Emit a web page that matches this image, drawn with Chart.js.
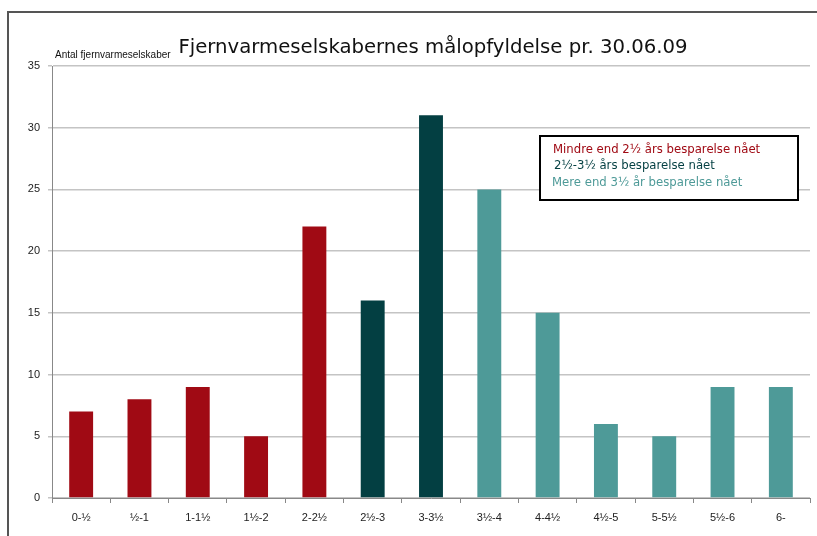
<!DOCTYPE html>
<html>
<head>
<meta charset="utf-8">
<script src="https://cdn.jsdelivr.net/npm/chart.js@4/dist/chart.umd.min.js"></script>
<style>
  html, body { margin: 0; padding: 0; background: #fff; }
  #wrap { width: 817px; height: 536px; position: relative; }
</style>
</head>
<body>
<div id="wrap"><canvas id="chart"></canvas></div>
<script>
// data
var categories = ['0-½', '½-1', '1-1½', '1½-2', '2-2½', '2½-3', '3-3½', '3½-4', '4-4½', '4½-5', '5-5½', '5½-6', '6-'];
var counts = [7, 8, 9, 5, 22, 16, 31, 25, 15, 6, 5, 9, 9];
var groupOf = [0, 0, 0, 0, 0, 1, 1, 2, 2, 2, 2, 2, 2];
var groupLabels = ['Mindre end 2½ års besparelse nået', '2½-3½ års besparelse nået', 'Mere end 3½ år besparelse nået'];
var groupColors = ['#a00a14', '#033f42', '#4e9a98'];
var yTicks = [0, 5, 10, 15, 20, 25, 30, 35];

var titleText = 'Fjernvarmeselskabernes målopfyldelse pr. 30.06.09';
var yLabel = 'Antal fjernvarmeselskaber';

// frame, title, axis caption and legend box
var decor = {
  id: 'decor',
  beforeDraw: function(chart) {
    var c = chart.ctx;
    c.save();
    c.fillStyle = '#fff';
    c.fillRect(0, 0, chart.width, chart.height);
    c.strokeStyle = '#555';
    c.lineWidth = 2;
    c.beginPath();
    c.moveTo(8, chart.height);
    c.lineTo(8, 12);
    c.lineTo(chart.width, 12);
    c.stroke();
    c.restore();
  },
  afterDraw: function(chart) {
    var c = chart.ctx;
    c.save();
    c.fillStyle = '#111';
    c.textBaseline = 'alphabetic';
    c.font = '19.7px "DejaVu Sans"';
    c.textAlign = 'center';
    c.fillText(titleText, 433, 53);
    c.font = '10px "Liberation Sans"';
    c.textAlign = 'left';
    c.fillText(yLabel, 55, 58);

    // legend
    var bx = 540, by = 136, bw = 258, bh = 64;
    c.fillStyle = '#fff';
    c.fillRect(bx, by, bw, bh);
    c.strokeStyle = '#000';
    c.lineWidth = 2;
    c.strokeRect(bx, by, bw, bh);
    c.font = '11.7px "DejaVu Sans"';
    var xs = [553, 554, 552];
    var ys = [153, 169, 186];
    for (var i = 0; i < groupLabels.length; i++) {
      c.fillStyle = groupColors[i];
      c.fillText(groupLabels[i], xs[i], ys[i]);
    }
    c.restore();
  }
};

new Chart(document.getElementById('chart'), {
  type: 'bar',
  data: {
    labels: categories,
    datasets: [{
      data: counts,
      backgroundColor: groupOf.map(function(g) { return groupColors[g]; }),
      borderWidth: 0,
      barPercentage: 0.41,
      categoryPercentage: 1
    }]
  },
  options: {
    responsive: true,
    maintainAspectRatio: false,
    animation: false,
    layout: { padding: { left: 0, right: 7, top: 66, bottom: 0 } },
    plugins: {
      legend: { display: false },
      title: { display: false },
      tooltip: { enabled: false }
    },
    scales: {
      x: {
        offset: true,
        grid: { display: true, drawOnChartArea: false, offset: true, tickLength: 5, color: '#888' },
        border: { color: '#888', width: 1 },
        ticks: { color: '#222', font: { family: '"Liberation Sans"', size: 11 }, maxRotation: 0, autoSkip: false, padding: 8 },
        afterFit: function(scale) { scale.height = 38; }
      },
      y: {
        min: 0,
        max: 35,
        afterBuildTicks: function(scale) { scale.ticks = yTicks.map(function(v) { return { value: v }; }); },
        grid: { color: '#c4c4c4', lineWidth: 1.5, tickLength: 4 },
        border: { color: '#888', width: 1 },
        ticks: { color: '#222', font: { family: '"Liberation Sans"', size: 11 }, padding: 8 },
        afterFit: function(scale) { scale.width = 52; }
      }
    }
  },
  plugins: [decor]
});
</script>
</body>
</html>
